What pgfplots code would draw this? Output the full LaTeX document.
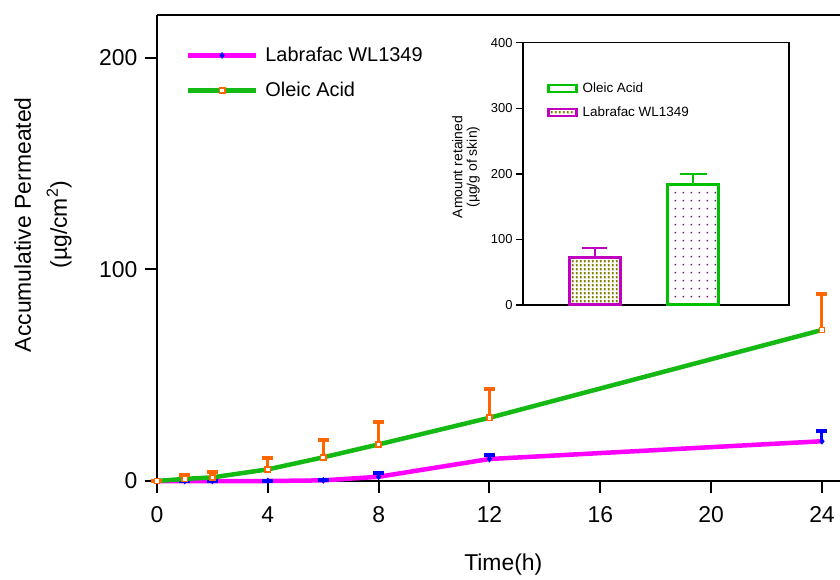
\documentclass[border=0pt]{standalone}
\usepackage{fontspec}
\setmainfont{Liberation Sans}
\usepackage{pgfplots}
\pgfplotsset{compat=1.18}
\usetikzlibrary{patterns}
\definecolor{lmag}{RGB}{255,0,255}
\definecolor{lgreen}{RGB}{20,185,20}
\definecolor{lorange}{RGB}{255,102,0}
\definecolor{lblue}{RGB}{0,0,255}
\definecolor{imag}{RGB}{192,0,192}
\definecolor{igreen}{RGB}{0,192,0}
\definecolor{iolive}{RGB}{128,128,0}
\definecolor{ipurple}{RGB}{128,0,128}
\pgfdeclarepatternformonly{sparsedots}{\pgfqpoint{0bp}{0bp}}{\pgfqpoint{8bp}{8bp}}{\pgfqpoint{8bp}{8bp}}{%
  \pgfpathrectangle{\pgfqpoint{3bp}{3bp}}{\pgfqpoint{1.6bp}{1.6bp}}\pgfusepath{fill}}
\pgfdeclarepatternformonly{densedots}{\pgfqpoint{0bp}{0bp}}{\pgfqpoint{4.2bp}{4.2bp}}{\pgfqpoint{4.2bp}{4.2bp}}{%
  \pgfpathrectangle{\pgfqpoint{1bp}{0.8bp}}{\pgfqpoint{2bp}{2.6bp}}\pgfusepath{fill}}
\begin{document}
\begin{tikzpicture}
\path[use as bounding box] (-157bp,-99bp) rectangle (683bp,481bp);
\begin{axis}[
  at={(0,0)}, anchor=south west,
  scale only axis, width=683bp, height=466bp,
  xmin=0, xmax=24.65, ymin=0, ymax=220.3,
  axis x line*=bottom, axis y line*=left,
  axis line style={line width=2bp},
  xtick={0,4,8,12,16,20,24}, ytick={0,100,200},
  tick align=outside, major tick length=12bp,
  tick style={line width=2bp, black},
  ticklabel style={font=\fontsize{23}{27}\selectfont},
  xticklabel style={yshift=-10bp},
  yticklabel style={xshift=-4bp},
  /pgf/number format/assume math mode=true,
  xlabel={Time(h)},
  xlabel style={at={(rel axis cs:0.507,0)}, anchor=center, yshift=-84bp, font=\fontsize{23}{27}\selectfont},
  ylabel={Accumulative Permeated\\(µg/cm\textsuperscript{2})},
  ylabel style={at={(rel axis cs:0,0.55)}, anchor=center, yshift=114bp, align=center, font=\fontsize{23}{36}\selectfont},
  legend style={at={(rel axis cs:0.042,0.935)}, anchor=north west, draw=none, fill=none,
    font=\fontsize{20}{24}\selectfont, row sep=15bp, inner sep=0pt,
    /tikz/every odd column/.style={column sep=5bp}},
  legend cell align=left,
  legend image code/.code={\draw[mark repeat=2,mark phase=2,#1] plot coordinates {(0bp,0bp) (34bp,0bp) (68bp,0bp)};},
  clip=false,
]
\draw[line width=2bp] (rel axis cs:0,1) -- (rel axis cs:1,1);
\addplot[color=lmag, line width=4.5bp, mark=diamond*, mark size=3bp,
  mark options={lblue, fill=lblue, line width=0.5bp},
  error bars/.cd, y dir=plus, y explicit,
  error bar style={line width=3bp, lblue},
  error mark options={rotate=90, mark size=5.5bp, line width=4bp, lblue}]
  coordinates {
  (0,0) +- (0,0)
  (1,0) +- (0,0)
  (2,0) +- (0,0)
  (4,0) +- (0,0)
  (6,0.3) +- (0,0)
  (8,2.0) +- (0,1.8)
  (12,10.4) +- (0,2.0)
  (24,18.8) +- (0,5.0)
  };
\addlegendentry{Labrafac WL1349}
\addplot[color=lgreen, line width=4.5bp, mark=square*, mark size=2.6bp,
  mark options={draw=lorange, fill=white, line width=1.6bp},
  error bars/.cd, y dir=plus, y explicit,
  error bar style={line width=3bp, lorange},
  error mark options={rotate=90, mark size=5.5bp, line width=4bp, lorange}]
  coordinates {
  (0,0) +- (0,0)
  (1,1.0) +- (0,1.8)
  (2,1.7) +- (0,2.4)
  (4,5.5) +- (0,5.2)
  (6,11.2) +- (0,8.2)
  (8,17.3) +- (0,10.7)
  (12,29.9) +- (0,13.5)
  (24,71.4) +- (0,17.0)
  };
\addlegendentry{Oleic Acid}
\end{axis}
\begin{axis}[
  at={(366bp,176bp)}, anchor=south west,
  scale only axis, width=266bp, height=262.3bp,
  xmin=0.269, xmax=2.97, ymin=0, ymax=400,
  xtick=\empty, ytick={0,100,200,300,400},
  ytick pos=left,
  axis line style={line width=1.5bp},
  tick align=outside, major tick length=7bp,
  tick style={line width=1.5bp, black},
  ticklabel style={font=\fontsize{13}{15}\selectfont},
  /pgf/number format/assume math mode=true,
  ylabel={Amount retained\\(µg/g of skin)},
  ylabel style={at={(rel axis cs:0,0.526)}, anchor=center, yshift=57bp, align=center, font=\fontsize{14}{14.5}\selectfont},
  ybar, bar width=51bp,
  legend style={at={(rel axis cs:0.09,0.78)}, anchor=west, draw=none, fill=none,
    font=\fontsize{13.5}{16}\selectfont, row sep=9bp, inner sep=0pt,
    /tikz/every odd column/.style={column sep=3bp}},
  legend cell align=left,
  legend image code/.code={\draw[#1, line width=2.5bp] (0bp,-3.5bp) rectangle (28bp,3.5bp);},
  clip=false,
]
\addplot[bar shift=0pt, draw=igreen, line width=3bp, pattern=sparsedots, pattern color=ipurple,
  legend image code/.code={\draw[igreen, fill=white, line width=2.5bp] (0bp,-3.5bp) rectangle (28bp,3.5bp);},
  error bars/.cd, y dir=plus, y explicit,
  error bar style={line width=2bp, igreen},
  error mark options={rotate=90, mark size=13.5bp, line width=2bp, igreen}]
  coordinates {(2,184) +- (0,16)};
\addlegendentry{Oleic Acid}
\addplot[bar shift=0pt, draw=imag, line width=3bp, pattern=densedots, pattern color=iolive,
  error bars/.cd, y dir=plus, y explicit,
  error bar style={line width=2bp, imag},
  error mark options={rotate=90, mark size=12.5bp, line width=2bp, imag}]
  coordinates {(1,72.7) +- (0,13.7)};
\addlegendentry{Labrafac WL1349}
\end{axis}
\end{tikzpicture}
\end{document}
